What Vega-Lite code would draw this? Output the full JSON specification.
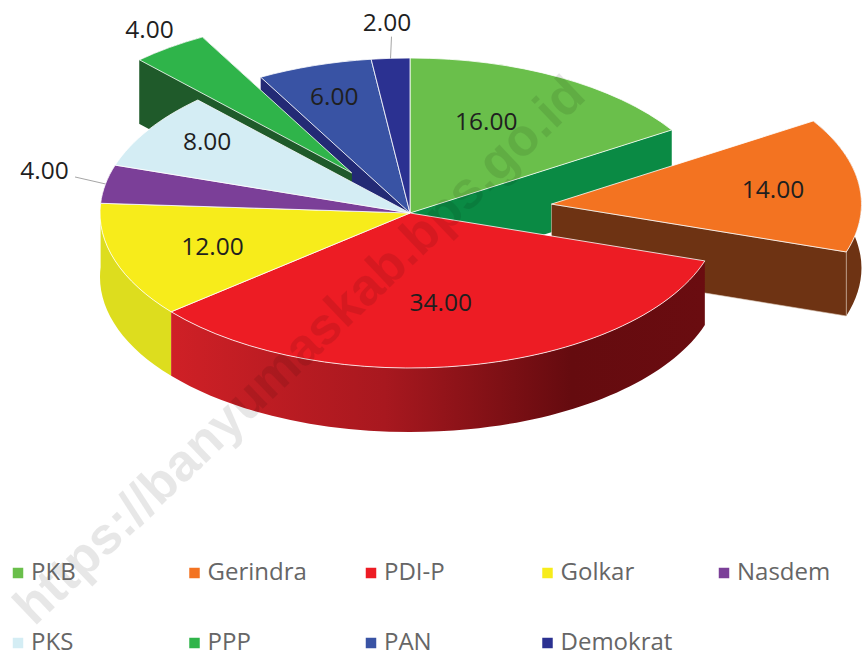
{
"$schema":"https://vega.github.io/schema/vega-lite/v6.json",
"width":863,"height":656,"padding":0,"autosize":"none",
"background":"white",
"config":{"view":{"stroke":null}},
"data":{"values":[
{"rank":1,"party":"PKB","value":16},
{"rank":2,"party":"Gerindra","value":14},
{"rank":3,"party":"PDI-P","value":34},
{"rank":4,"party":"Golkar","value":12},
{"rank":5,"party":"Nasdem","value":4},
{"rank":6,"party":"PKS","value":8},
{"rank":7,"party":"PPP","value":4},
{"rank":8,"party":"PAN","value":6},
{"rank":9,"party":"Demokrat","value":2}
]},
"transform":[
{"stack":"value","groupby":[],"sort":[{"field":"rank","order":"ascending"}],"as":["s0","s1"]},
{"calculate":"datum.s0*2*PI/100","as":"t0"},
{"calculate":"datum.s1*2*PI/100","as":"t1"},
{"calculate":"(datum.t0+datum.t1)/2","as":"tm"},
{"calculate":"round(310*sin(datum.t0)*100)/100","as":"x0"},
{"calculate":"round(-155*cos(datum.t0)*100)/100","as":"y0"},
{"calculate":"round(310*sin(datum.t1)*100)/100","as":"x1"},
{"calculate":"round(-155*cos(datum.t1)*100)/100","as":"y1"},
{"calculate":"({'Gerindra':0.46,'PPP':0.32})[datum.party]||0","as":"pull"},
{"calculate":"datum.pull*310*sin(datum.tm)","as":"ox"},
{"calculate":"-datum.pull*155*cos(datum.tm)","as":"oy"},
{"calculate":"'M0,0L'+datum.x0+','+datum.y0+'A310,155 0 0 1 '+datum.x1+','+datum.y1+'Z'","as":"pTop"},
{"calculate":"'M'+datum.x0+','+datum.y0+'A310,155 0 0 1 '+datum.x1+','+datum.y1+'L'+datum.x1+','+(datum.y1+64)+'A310,155 0 0 0 '+datum.x0+','+(datum.y0+64)+'Z'","as":"pOuter"},
{"calculate":"'M0,0L'+datum.x0+','+datum.y0+'L'+datum.x0+','+(datum.y0+64)+'L0,64Z'","as":"pFace0"},
{"calculate":"'M0,0L'+datum.x1+','+datum.y1+'L'+datum.x1+','+(datum.y1+64)+'L0,64Z'","as":"pFace1"},
{"calculate":"({'PKB':0.51,'Gerindra':0.72,'PDI-P':0.53,'Golkar':0.67,'Nasdem':1.2,'PKS':0.775,'PPP':1.11,'PAN':0.79,'Demokrat':1.18})[datum.party]","as":"lrx"},
{"calculate":"({'PKB':0.67,'Gerindra':0.72,'PDI-P':0.59,'Golkar':0.7,'Nasdem':1.45,'PKS':0.85,'PPP':1.14,'PAN':0.79,'Demokrat':1.23})[datum.party]","as":"lry"},
{"calculate":"datum.ox+310*sin(datum.tm)*datum.lrx","as":"lx"},
{"calculate":"datum.oy-155*cos(datum.tm)*datum.lry","as":"ly"},
{"calculate":"310*sin(datum.tm)","as":"ex"},
{"calculate":"-155*cos(datum.tm)","as":"ey"},
{"calculate":"datum.ex*({'Nasdem':1.1,'Demokrat':0.95})[datum.party]","as":"ex2"},
{"calculate":"datum.ey*({'Nasdem':1.24,'Demokrat':1.14})[datum.party]","as":"ey2"}
],
"encoding":{
"x":{"field":"ox","type":"quantitative","axis":null,"scale":{"domain":[-410,453],"range":[0,863],"nice":false,"zero":false}},
"y":{"field":"oy","type":"quantitative","axis":null,"scale":{"domain":[-213,443],"range":[0,656],"nice":false,"zero":false}}
},
"layer":[
{"transform":[{"filter":"datum.party=='PKB'"}],"mark":{"type":"point","filled":true,"size":4,"opacity":1,"fill":"#0a8a44","strokeWidth":0},"encoding":{"shape":{"field":"pFace1","type":"nominal","scale":null}}},
{"transform":[{"filter":"datum.party=='PAN'"}],"mark":{"type":"point","filled":true,"size":4,"opacity":1,"fill":"#232a75","strokeWidth":0},"encoding":{"shape":{"field":"pFace0","type":"nominal","scale":null}}},
{"transform":[{"filter":"datum.party=='Gerindra'"}],"mark":{"type":"point","filled":true,"size":4,"opacity":1,"fill":"#6e3313","strokeWidth":0},"encoding":{"shape":{"field":"pOuter","type":"nominal","scale":null}}},
{"transform":[{"filter":"datum.party=='Gerindra'"}],"mark":{"type":"point","filled":true,"size":4,"opacity":1,"fill":"#6e3313","stroke":"#d9c4b4","strokeWidth":0.6},"encoding":{"shape":{"field":"pFace1","type":"nominal","scale":null}}},
{"transform":[{"filter":"datum.party=='PPP'"}],"mark":{"type":"point","filled":true,"size":4,"opacity":1,"fill":"#1f5a2a","strokeWidth":0},"encoding":{"shape":{"field":"pOuter","type":"nominal","scale":null}}},
{"transform":[{"filter":"datum.party=='PPP'"}],"mark":{"type":"point","filled":true,"size":4,"opacity":1,"fill":"#1f5a2a","strokeWidth":0},"encoding":{"shape":{"field":"pFace0","type":"nominal","scale":null}}},
{"transform":[{"filter":"datum.party=='PPP'"}],"mark":{"type":"point","filled":true,"size":4,"opacity":1,"fill":"#1f5a2a","strokeWidth":0},"encoding":{"shape":{"field":"pFace1","type":"nominal","scale":null}}},
{"transform":[{"filter":"datum.party=='Golkar'"}],"mark":{"type":"point","filled":true,"size":4,"opacity":1,"fill":"#dddd1e","strokeWidth":0},"encoding":{"shape":{"field":"pOuter","type":"nominal","scale":null}}},
{"transform":[{"filter":"datum.party=='PDI-P'"}],"mark":{"type":"point","filled":true,"size":4,"opacity":1,"strokeWidth":0,"fill":{"gradient":"linear","x1":0,"x2":1,"y1":0,"y2":0,"stops":[{"offset":0,"color":"#cf2026"},{"offset":0.4,"color":"#a8181f"},{"offset":0.75,"color":"#650b0f"},{"offset":1,"color":"#6a0c10"}]}},"encoding":{"shape":{"field":"pOuter","type":"nominal","scale":null}}},
{"mark":{"type":"point","filled":true,"size":4,"opacity":1,"stroke":"white","strokeWidth":0.8},
 "encoding":{"shape":{"field":"pTop","type":"nominal","scale":null},
 "order":{"field":"rank"},
 "color":{"field":"party","type":"nominal","scale":{"domain":["PKB","PKS","Gerindra","PPP","PDI-P","PAN","Golkar","Demokrat","Nasdem"],"range":["#6abf4b","#d4edf4","#f37321","#2fb44a","#ed1c24","#3953a4","#f7ec1b","#2b3191","#7b3f98"]},
 "legend":{"title":null,"orient":"none","legendX":6,"legendY":561,"columns":5,"gridAlign":"all","columnPadding":39.5,"rowPadding":46,"symbolType":"square","symbolSize":110,"symbolStrokeWidth":0,"symbolOpacity":1,"labelFont":"Open Sans","labelFontSize":24,"labelColor":"#666666","labelOffset":1,"labelLimit":200,"padding":0}}}},
{"transform":[{"filter":"datum.party=='Nasdem'||datum.party=='Demokrat'"}],"mark":{"type":"rule","color":"#a6a6a6","strokeWidth":1},"encoding":{"x":{"field":"ex","type":"quantitative"},"y":{"field":"ey","type":"quantitative"},"x2":{"field":"ex2"},"y2":{"field":"ey2"}}},
{"mark":{"type":"text","font":"Open Sans","fontSize":24.5,"color":"#1f1f1f","align":"center","baseline":"middle","dy":1},"encoding":{"x":{"field":"lx","type":"quantitative"},"y":{"field":"ly","type":"quantitative"},"text":{"field":"value","type":"quantitative","format":".2f"}}},
{"transform":[{"filter":"datum.rank==1"}],"mark":{"type":"text","text":"https://banyumaskab.bps.go.id","font":"Liberation Sans","fontWeight":"bold","fontSize":52,"angle":316.3,"color":"#000000","opacity":0.09,"align":"center","baseline":"middle"},"encoding":{"x":{"datum":-110},"y":{"datum":138}}}
]
}
